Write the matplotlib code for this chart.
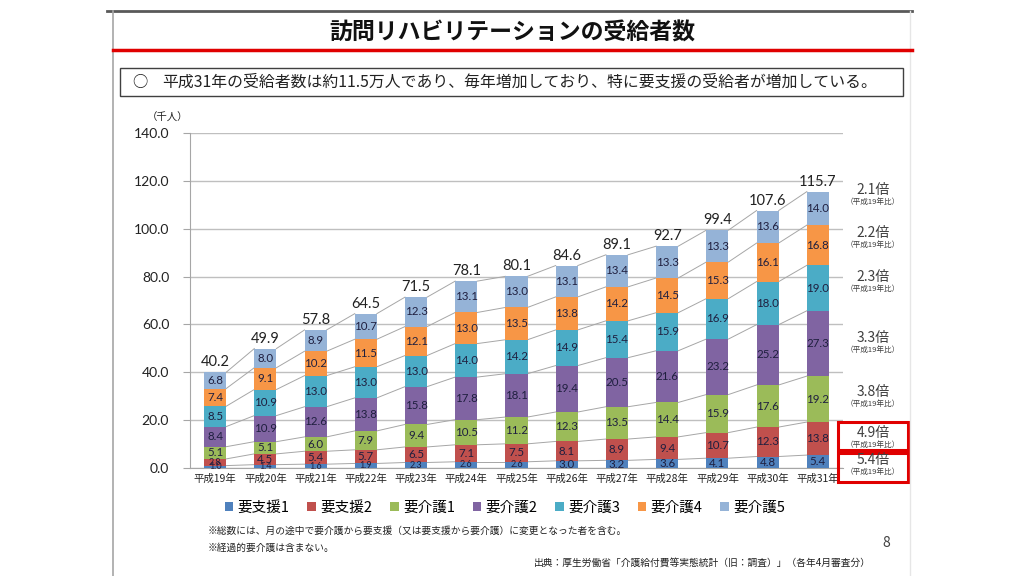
import matplotlib
matplotlib.use('Agg')
import matplotlib.pyplot as plt
from matplotlib.lines import Line2D
from matplotlib.patches import Rectangle
import numpy as np

plt.rcParams['font.family'] = ['Noto Sans CJK JP', 'DejaVu Sans']

years = ['平成19年', '平成20年', '平成21年', '平成22年', '平成23年', '平成24年', '平成25年',
         '平成26年', '平成27年', '平成28年', '平成29年', '平成30年', '平成31年']
shien1 = [1.0, 1.4, 1.6, 1.9, 2.3, 2.6, 2.6, 3.0, 3.2, 3.6, 4.1, 4.8, 5.4]
shien2 = [2.8, 4.5, 5.4, 5.7, 6.5, 7.1, 7.5, 8.1, 8.9, 9.4, 10.7, 12.3, 13.8]
kaigo1 = [5.1, 5.1, 6.0, 7.9, 9.4, 10.5, 11.2, 12.3, 13.5, 14.4, 15.9, 17.6, 19.2]
kaigo2 = [8.4, 10.9, 12.6, 13.8, 15.8, 17.8, 18.1, 19.4, 20.5, 21.6, 23.2, 25.2, 27.3]
kaigo3 = [8.5, 10.9, 13.0, 13.0, 13.0, 14.0, 14.2, 14.9, 15.4, 15.9, 16.9, 18.0, 19.0]
kaigo4 = [7.4, 9.1, 10.2, 11.5, 12.1, 13.0, 13.5, 13.8, 14.2, 14.5, 15.3, 16.1, 16.8]
kaigo5 = [6.8, 8.0, 8.9, 10.7, 12.3, 13.1, 13.0, 13.1, 13.4, 13.3, 13.3, 13.6, 14.0]
totals = [40.2, 49.9, 57.8, 64.5, 71.5, 78.1, 80.1, 84.6, 89.1, 92.7, 99.4, 107.6, 115.7]
series_names = ['要支援1', '要支援2', '要介護1', '要介護2', '要介護3', '要介護4', '要介護5']
ratios = ['2.1倍', '2.2倍', '2.3倍', '3.3倍', '3.8倍', '4.9倍', '5.4倍']

colors = ['#4F81BD', '#C0504D', '#9BBB59', '#8064A2', '#4BACC6', '#F79646', '#95B3D7']
num_font = ['Lato', 'DejaVu Sans']

W, H = 1024, 576
fig = plt.figure(figsize=(W / 100, H / 100), dpi=100)

def fx(px):
    return px / W

def fy(py):
    return 1 - py / H

# slide frame
fig.add_artist(Line2D([fx(107), fx(912)], [fy(11), fy(11)], color='#595959', lw=2))
fig.add_artist(Line2D([fx(113), fx(113)], [fy(11), fy(576)], color='#A6A6A6', lw=1.2))
fig.add_artist(Line2D([fx(910), fx(910)], [fy(11), fy(576)], color='#E6E6E6', lw=1))
fig.add_artist(Line2D([fx(113), fx(912)], [fy(50), fy(50)], color='#E00000', lw=2.5))

fig.text(fx(512), fy(33), '訪問リハビリテーションの受給者数', ha='center', va='center',
         fontsize=16.5, fontweight='bold', color='#111111')

fig.add_artist(Rectangle((fx(120), fy(96)), fx(903) - fx(120), fy(68) - fy(96),
                         fill=False, ec='#404040', lw=1, transform=fig.transFigure))
fig.text(fx(132), fy(82), '○', ha='left', va='center', fontsize=11, color='#222222')
fig.text(fx(162), fy(82), '平成31年の受給者数は約11.5万人であり、毎年増加しており、特に要支援の受給者が増加している。',
         ha='left', va='center', fontsize=11.4, color='#222222')

ax = fig.add_axes([fx(190), fy(468), fx(843) - fx(190), fy(133) - fy(468)])
data = [shien1, shien2, kaigo1, kaigo2, kaigo3, kaigo4, kaigo5]
x = np.arange(len(years))
bw = 0.44
bottom = np.zeros(len(years))
tops = []
for vals, c, name in zip(data, colors, series_names):
    vals = np.array(vals)
    ax.bar(x, vals, bw, bottom=bottom, color=c, label=name, zorder=3)
    for xi, b, v in zip(x, bottom, vals):
        fs = 6.5 if v < 3 else 8.3
        ax.text(xi, b + v / 2, f'{v:.1f}', ha='center', va='center', fontsize=fs,
                color='#1F1F3F', zorder=4, family=num_font)
    bottom = bottom + vals
    tops.append(bottom.copy())

# series lines between bars
for lvl in tops:
    for i in range(len(x) - 1):
        ax.plot([x[i] + bw / 2, x[i + 1] - bw / 2], [lvl[i], lvl[i + 1]],
                color='#A6A6A6', lw=0.7, zorder=2)

for xi, t, b in zip(x, totals, bottom):
    ax.text(xi, b + 1.2, f'{t:.1f}', ha='center', va='bottom', fontsize=10.5,
            color='#222222', family=num_font)

ax.set_xlim(-0.5, len(years) - 0.5)
ax.set_ylim(0, 140)
ax.set_yticks(np.arange(0, 141, 20))
ax.set_yticklabels([f'{v:.1f}' for v in np.arange(0, 141, 20)], fontsize=10, color='#222222',
                   family=num_font)
ax.set_xticks(x)
ax.set_xticklabels(years, fontsize=7.5, color='#222222')
ax.tick_params(axis='x', length=0, pad=4)
ax.tick_params(axis='y', length=5, color='#A6A6A6', pad=10)
ax.grid(axis='y', color='#BFBFBF', lw=1, zorder=0)
for s in ['top', 'right']:
    ax.spines[s].set_visible(False)
ax.spines['left'].set_color('#A6A6A6')
ax.spines['bottom'].set_color('#A6A6A6')
ax.set_facecolor('none')

fig.text(fx(168), fy(118), '（千人）', ha='center', va='center', fontsize=7.5, color='#222222')

# legend
leg = fig.legend(loc='center', bbox_to_anchor=(fx(505), fy(508)), ncol=7, frameon=False,
                 fontsize=10.5, handlelength=0.6, handleheight=0.6, handletextpad=0.3,
                 columnspacing=1.2)

# right annotations
ann_y = [190, 233, 277, 338, 392, 433, 460]
for r, yy in zip(ratios, ann_y):
    fig.text(fx(873), fy(yy), r, ha='center', va='center', fontsize=10, color='#404040')
    fig.text(fx(873), fy(yy + 12), '（平成19年比）', ha='center', va='center', fontsize=5.5,
             color='#404040')
for y0, y1 in [(422, 450), (453, 482)]:
    fig.add_artist(Rectangle((fx(838), fy(y1)), fx(908) - fx(838), fy(y0) - fy(y1),
                             fill=False, ec='#E00000', lw=2.2, transform=fig.transFigure))

fig.text(fx(208), fy(531), '※総数には、月の途中で要介護から要支援（又は要支援から要介護）に変更となった者を含む。',
         ha='left', va='center', fontsize=7, color='#222222')
fig.text(fx(208), fy(548), '※経過的要介護は含まない。', ha='left', va='center', fontsize=7,
         color='#222222')
fig.text(fx(871), fy(563), '出典：厚生労働省「介護給付費等実態統計（旧：調査）」（各年4月審査分）',
         ha='right', va='center', fontsize=7, color='#222222')
fig.text(fx(886), fy(543), '8', ha='center', va='center', fontsize=10, color='#404040')

fig.savefig('out.png', dpi=100)
